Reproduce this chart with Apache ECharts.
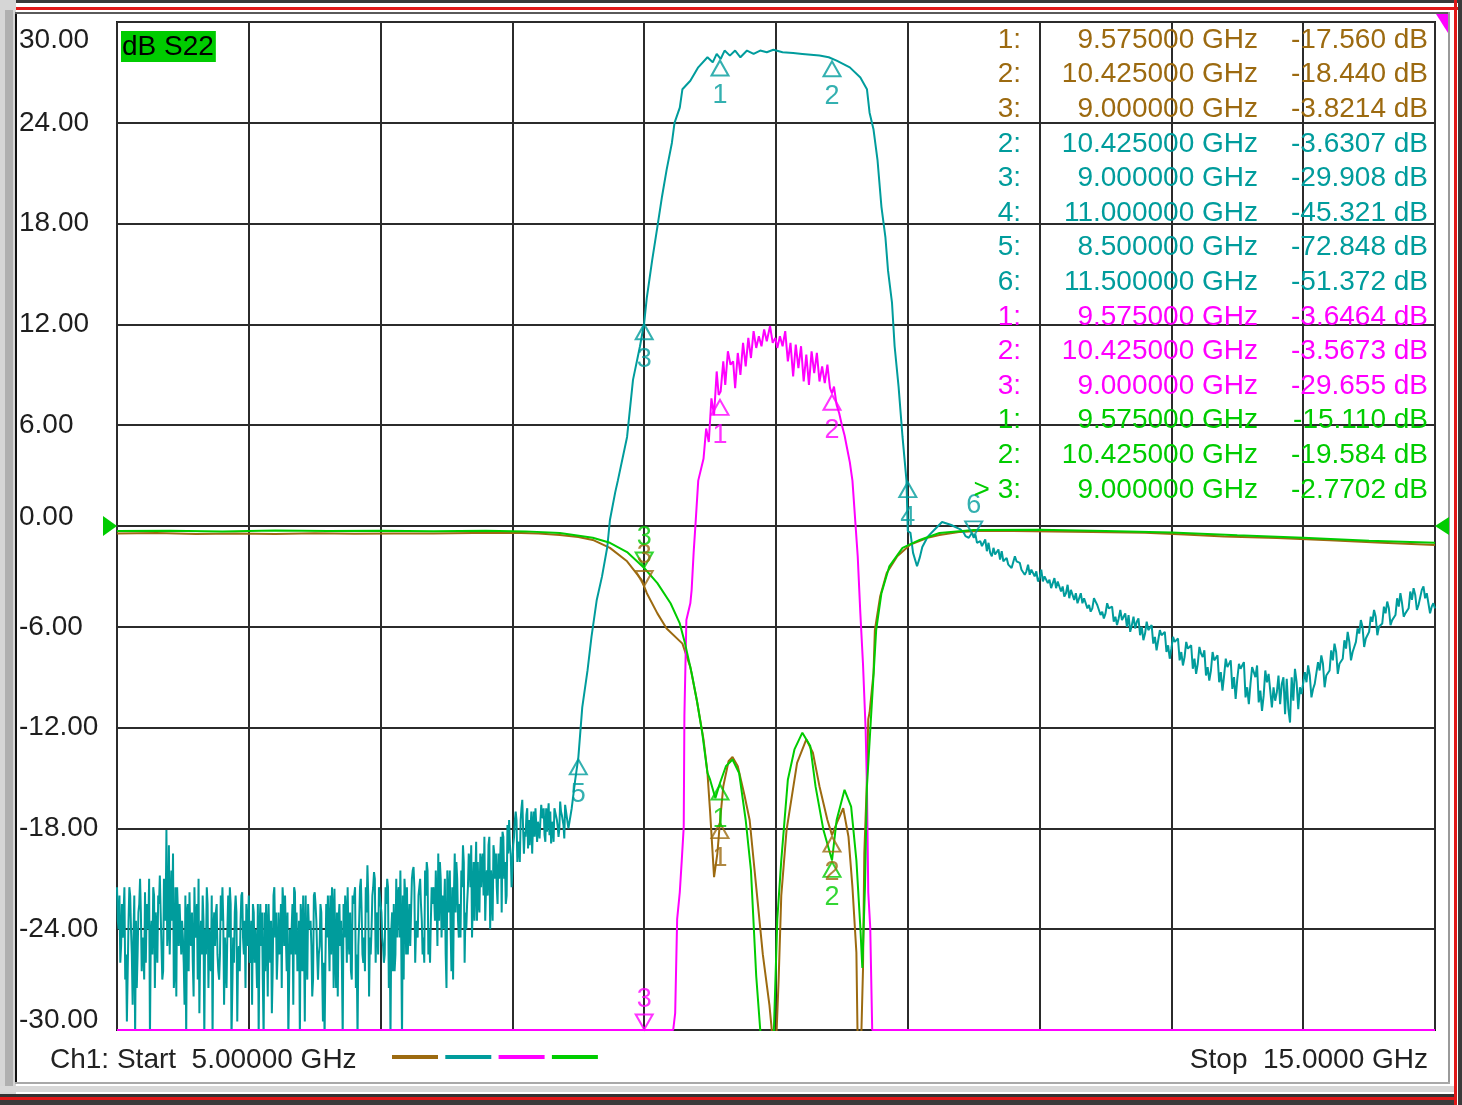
<!DOCTYPE html>
<html><head><meta charset="utf-8">
<script src="https://cdn.jsdelivr.net/npm/echarts@6/dist/echarts.min.js"></script>
<style>html,body{margin:0;padding:0;background:#fff;}#c{width:1462px;height:1105px;}</style>
</head><body><div id="c"></div>
<script>
const FONT = '"Liberation Sans", Arial, sans-serif';
// ---- axes ----
const freqMin = 5, freqMax = 15, freqStep = 1;
const dbMin = -30, dbMax = 30, dbStep = 6;
const activeTraceLabel = 'dB S22';
const channelLabel = 'Ch1:';

// ---- trace 1 (brown) [GHz, dB] ----
const brownTrace = [[5.0,-0.45],[5.3,-0.42],[5.6,-0.48],[5.9,-0.44],[6.2,-0.47],[6.5,-0.43],[6.8,-0.46],[7.1,-0.44],[7.4,-0.45],[7.7,-0.42],[8.0,-0.40],[8.2,-0.45],[8.36,-0.54],[8.5,-0.65],[8.61,-0.83],[8.74,-1.3],[8.87,-2.1],[8.98,-3.2],[9.02,-4.0],[9.10,-5.2],[9.17,-6.1],[9.29,-7.0],[9.35,-8.4],[9.40,-10.4],[9.45,-12.7],[9.48,-14.7],[9.50,-17.0],[9.53,-20.9],[9.555,-19.5],[9.575,-17.6],[9.60,-15.5],[9.64,-14.0],[9.67,-13.75],[9.71,-14.3],[9.76,-16.0],[9.80,-17.5],[9.86,-22.3],[9.90,-25.5],[9.95,-28.5],[9.98,-31],[10.0,-31],[10.02,-27],[10.04,-22],[10.08,-18.1],[10.16,-14.1],[10.23,-12.7],[10.28,-13.5],[10.33,-15.5],[10.39,-17.5],[10.425,-18.4],[10.46,-17.7],[10.51,-16.8],[10.55,-18.5],[10.58,-21.5],[10.61,-25.4],[10.62,-31],[10.645,-31],[10.66,-26.4],[10.67,-19.5],[10.69,-15.1],[10.70,-11.5],[10.71,-11.1],[10.74,-8.75],[10.75,-6.2],[10.79,-4.2],[10.84,-2.8],[10.92,-1.8],[11.02,-1.1],[11.15,-0.7],[11.24,-0.54],[11.4,-0.35],[11.55,-0.28],[11.8,-0.3],[12.1,-0.33],[12.4,-0.36],[12.8,-0.4],[13.1,-0.5],[13.4,-0.62],[13.8,-0.72],[14.2,-0.85],[14.6,-1.0],[15.0,-1.13]];

// ---- trace 4 (green) [GHz, dB] ----
const greenTrace = [[5.0,-0.3],[5.4,-0.28],[5.8,-0.32],[6.2,-0.27],[6.6,-0.3],[7.0,-0.28],[7.4,-0.31],[7.8,-0.29],[8.1,-0.32],[8.36,-0.42],[8.61,-0.7],[8.74,-1.0],[8.87,-1.55],[9.0,-2.5],[9.10,-3.4],[9.20,-4.6],[9.27,-5.8],[9.31,-7.0],[9.36,-8.75],[9.40,-10.4],[9.44,-12.3],[9.48,-14.7],[9.50,-15.1],[9.54,-16.2],[9.575,-15.3],[9.62,-14.3],[9.67,-13.9],[9.72,-14.7],[9.77,-17.5],[9.81,-20.5],[9.85,-26.8],[9.89,-31],[9.98,-31],[10.01,-23.4],[10.04,-19.9],[10.09,-15.1],[10.14,-13.3],[10.20,-12.3],[10.26,-13.1],[10.30,-15.5],[10.36,-18.1],[10.425,-19.9],[10.46,-17.5],[10.52,-15.7],[10.57,-16.7],[10.61,-19.9],[10.64,-23.9],[10.655,-26.3],[10.675,-21.5],[10.69,-15.5],[10.72,-11.5],[10.73,-10.2],[10.76,-6.2],[10.80,-4.0],[10.86,-2.4],[10.96,-1.3],[11.09,-0.83],[11.24,-0.42],[11.5,-0.24],[12.0,-0.22],[12.5,-0.3],[13.0,-0.38],[13.5,-0.55],[14.0,-0.7],[14.5,-0.88],[15.0,-1.0]];

// ---- trace 3 (magenta) [GHz, dB] ----
const magentaTrace = [[5.0,-30],[9.22,-30],[9.235,-29],[9.25,-23.4],[9.27,-21.8],[9.285,-19.9],[9.30,-17.9],[9.305,-11.3],[9.32,-5.6],[9.35,-4.6],[9.36,-3.8],[9.375,-1.6],[9.39,0.2],[9.41,2.7],[9.45,4.0],[9.47,5.8],[9.49,5.0],[9.51,7.6],[9.53,6.6],[9.55,9.2],[9.565,7.8],[9.58,8.0],[9.60,9.8],[9.615,8.4],[9.635,10.4],[9.655,9.6],[9.675,9.8],[9.69,8.2],[9.71,10.3],[9.73,9.0],[9.75,10.9],[9.77,9.5],[9.79,11.2],[9.81,10.0],[9.83,11.6],[9.85,10.6],[9.87,11.3],[9.89,10.7],[9.91,11.7],[9.93,11.0],[9.955,11.9],[9.975,10.9],[9.995,11.2],[10.01,10.6],[10.03,11.3],[10.05,10.7],[10.07,11.6],[10.09,9.8],[10.11,10.9],[10.13,8.9],[10.15,10.8],[10.17,9.4],[10.19,10.7],[10.21,8.6],[10.23,10.2],[10.25,8.4],[10.27,10.4],[10.29,9.1],[10.31,10.3],[10.33,8.6],[10.35,9.5],[10.37,8.5],[10.39,9.6],[10.41,8.2],[10.425,7.9],[10.44,8.3],[10.46,7.2],[10.48,6.7],[10.50,6.0],[10.52,5.4],[10.54,4.6],[10.56,3.8],[10.58,2.7],[10.62,-1.8],[10.64,-5.2],[10.66,-8.2],[10.68,-12.1],[10.69,-15.5],[10.70,-21.8],[10.715,-23.9],[10.73,-30],[15.0,-30]];

// ---- trace 2 (teal) ----
// noise floor 5.0 - 8.4 GHz, four interleaved sweep sets, each 0.025 GHz apart
const tealLowStep = 0.025;
const tealLowStartA = 5.0;
const tealLowDbA = [
 -21.5,-26.0,-23.0,-29.5,-22.0,-24.5,-27.5,-21.0,-25.0,-22.5,
 -30.5,-21.5,-24.0,-20.8,-26.5,-18.1,-25.5,-19.5,-28.0,-22.5,
 -24.5,-30.5,-21.8,-26.0,-23.5,-29.0,-22.0,-25.5,-24.0,-30.5,
 -23.0,-27.0,-21.5,-26.0,-24.5,-30.5,-22.0,-25.0,-21.8,-27.5,
 -22.0,-28.5,-24.0,-30.5,-23.0,-26.5,-22.5,-29.0,-24.5,-23.0,
 -27.5,-22.0,-30.5,-24.0,-21.8,-26.0,-23.5,-29.5,-22.5,-25.0,
 -21.8,-27.0,-23.0,-30.5,-22.0,-25.5,-21.6,-28.0,-23.5,-24.5,
 -21.5,-26.5,-22.5,-30.5,-21.0,-24.5,-20.2,-25.5,-20.6,-23.0,
 -22.0,-26.0,-21.0,-30.5,-22.5,-24.5,-20.5,-27.0,-21.5,-25.0,
 -20.3,-23.5,-21.0,-24.5,-20.0,-26.0,-21.5,-22.5,-20.0,-24.0,
 -27.5,-20.5,-27.0,-20.0,-22.5,-19.0,-24.0,-20.0,-22.0,-18.8,
 -23.0,-19.5,-21.5,-18.5,-23.5,-19.5,-21.0,-18.2,-22.5,-17.5,
 -20.5,-17.0,-19.0,-16.3,-18.5,-17.5,-19.5,-16.8,-18.0,-17.2,
 -18.8,-16.5,-17.8,-16.9,-18.5,-17.2,-16.6];
const tealLowStartB = 5.0125;
const tealLowDbB = [
 -24.0,-22.5,-27.0,-23.5,-25.5,-30.5,-23.0,-26.5,-21.8,-24.0,
 -23.5,-27.5,-22.0,-25.0,-21.5,-24.0,-20.5,-26.5,-23.0,-25.5,
 -28.5,-22.5,-25.0,-21.5,-27.0,-23.5,-30.5,-22.5,-26.5,-23.0,
 -25.5,-22.0,-28.5,-24.0,-22.5,-26.0,-29.5,-23.5,-25.5,-22.5,
 -25.5,-23.0,-27.5,-22.5,-30.5,-24.0,-26.0,-22.0,-27.0,-25.0,
 -22.5,-26.5,-24.0,-28.5,-23.0,-30.5,-22.0,-25.5,-24.0,-27.0,
 -23.5,-25.0,-29.5,-22.5,-26.5,-23.0,-27.5,-22.5,-30.5,-23.0,
 -25.5,-22.0,-27.5,-23.5,-25.5,-21.5,-28.0,-22.0,-26.0,-21.5,
 -24.5,-21.5,-27.5,-23.0,-25.5,-21.5,-30.5,-22.0,-24.0,-21.0,
 -26.0,-22.0,-23.5,-20.5,-25.5,-21.5,-23.5,-19.5,-24.5,-21.0,
 -22.0,-26.5,-19.5,-23.5,-20.5,-26.0,-21.5,-19.0,-23.5,-20.0,
 -21.5,-18.5,-22.0,-20.5,-19.5,-22.5,-18.5,-21.0,-17.8,-19.5,
 -18.5,-20.0,-17.5,-19.5,-16.8,-18.0,-17.0,-18.8,-17.5,-16.8,
 -18.2,-17.0,-18.8,-17.5,-16.4,-17.8];
const tealLowStartC = 5.00625;
const tealLowDbC = [
 -23.5,-25.0,-21.5,-26.5,-24.0,-22.0,-25.5,-23.0,-27.0,-22.5,
 -24.5,-22.0,-26.0,-23.0,-21.0,-25.0,-22.5,-27.5,-21.5,-24.0,
 -26.0,-23.0,-24.5,-28.0,-22.5,-25.0,-23.5,-21.5,-26.0,-24.0,
 -22.5,-25.5,-23.5,-27.5,-21.5,-24.5,-23.0,-26.5,-24.5,-22.5,
 -26.0,-22.5,-25.5,-24.0,-27.0,-22.5,-24.5,-26.5,-23.0,-25.5,
 -21.5,-24.5,-27.0,-22.5,-25.5,-23.5,-26.5,-22.0,-24.0,-28.0,
 -22.5,-25.5,-23.0,-26.0,-24.0,-21.5,-25.5,-23.5,-26.0,-22.0,
 -24.5,-27.0,-21.5,-25.0,-23.0,-26.5,-22.0,-24.0,-21.0,-25.5,
 -23.0,-25.5,-21.5,-24.0,-26.5,-22.0,-24.5,-21.0,-25.5,-23.0,
 -21.5,-24.5,-22.5,-26.0,-20.5,-23.5,-22.0,-25.0,-21.0,-23.0,
 -20.5,-24.0,-22.0,-21.0,-24.5,-20.0,-22.5,-21.5,-20.0,-23.5,
 -19.5,-22.0,-20.5,-24.0,-19.0,-21.5,-20.0,-18.5,-22.0,-19.0,
 -19.0,-17.5,-20.0,-18.0,-17.2,-19.0,-17.8,-16.9,-18.6,-17.4,
 -16.8,-18.4,-17.6,-16.9,-18.0,-17.3];
const tealLowStartD = 5.01875;
const tealLowDbD = [
 -22.0,-24.5,-25.5,-21.5,-28.5,-23.5,-22.5,-24.5,-26.0,-21.0,
 -25.5,-23.0,-22.5,-27.0,-23.5,-19.0,-23.5,-21.5,-25.0,-23.5,
 -22.0,-26.5,-23.0,-24.5,-21.0,-25.5,-24.0,-27.5,-22.0,-25.0,
 -26.5,-23.5,-24.5,-22.0,-30.5,-23.0,-25.5,-22.0,-23.5,-25.0,
 -23.5,-26.0,-22.5,-25.0,-23.0,-28.0,-23.5,-21.5,-25.5,-22.5,
 -25.0,-23.0,-25.5,-21.5,-26.5,-22.5,-24.5,-27.0,-23.5,-22.0,
 -25.5,-22.5,-26.0,-24.5,-22.0,-27.5,-23.0,-25.0,-22.5,-26.0,
 -23.0,-22.5,-25.5,-21.5,-26.0,-23.0,-24.5,-21.5,-23.5,-22.0,
 -25.0,-22.5,-24.0,-26.5,-21.0,-24.5,-22.0,-25.5,-22.5,-20.5,
 -24.0,-21.5,-25.5,-22.0,-24.0,-22.5,-20.5,-23.5,-22.0,-25.5,
 -23.0,-21.5,-23.0,-24.5,-21.5,-23.0,-19.5,-24.5,-21.0,-22.5,
 -20.0,-23.5,-19.0,-22.0,-21.0,-19.5,-23.0,-20.0,-19.5,-21.5,
 -17.5,-18.8,-16.8,-18.2,-19.2,-17.0,-18.5,-17.6,-16.6,-18.4,
 -17.2,-18.9,-16.8,-17.9,-17.0,-18.6];
// passband [GHz, dB]
const tealMid = [[8.425,-18.0],[8.45,-16.8],[8.475,-15.2],[8.50,-13.8],[8.53,-10.8],[8.57,-8.6],[8.60,-6.6],[8.64,-4.4],[8.68,-3.0],[8.72,-1.25],[8.74,0.36],[8.78,2.0],[8.80,2.7],[8.87,5.3],[8.915,8.7],[8.968,10.7],[9.0,12.1],[9.02,13.6],[9.06,15.8],[9.10,17.8],[9.135,19.6],[9.17,21.2],[9.21,22.8],[9.23,24.0],[9.27,24.9],[9.29,26.0],[9.35,26.5],[9.41,27.3],[9.48,27.9],[9.52,27.6],[9.55,28.1],[9.58,27.8],[9.61,28.3],[9.65,28.0],[9.69,28.3],[9.73,27.9],[9.78,28.3],[9.83,28.1],[9.88,28.3],[9.93,28.2],[9.98,28.35],[10.05,28.2],[10.13,28.15],[10.20,28.1],[10.33,28.0],[10.40,27.9],[10.46,27.7],[10.56,27.3],[10.64,26.7],[10.69,26.0],[10.71,24.6],[10.74,23.6],[10.77,21.8],[10.80,19.0],[10.83,17.2],[10.85,15.2],[10.88,13.3],[10.90,10.7],[10.93,8.3],[10.96,5.3],[10.99,2.7],[11.0,-0.3],[11.02,-0.4],[11.04,-1.6],[11.07,-2.4],[11.09,-1.9],[11.11,-1.25],[11.15,-0.65],[11.20,-0.24],[11.26,0.24],[11.33,0.06],[11.37,-0.1]];
// upper stopband 11.4 - 15.0 GHz, four interleaved sweep sets, each 0.05 GHz apart
const tealHighStep = 0.05;
const tealHighStartA = 11.4;
const tealHighDbA = [
 -0.2,-0.5,-0.7,-0.9,-1.5,-1.3,-2.0,-1.9,-2.4,-2.2,
 -2.7,-2.5,-3.1,-2.9,-3.6,-3.4,-4.0,-3.8,-4.5,-4.2,
 -4.9,-4.6,-5.2,-4.8,-5.5,-5.2,-5.9,-5.5,-6.4,-5.9,
 -6.8,-6.3,-7.3,-6.7,-7.8,-7.1,-8.2,-7.4,-8.6,-7.7,
 -8.9,-8.0,-9.1,-8.1,-9.4,-8.3,-10.1,-8.7,-9.9,-9.0,
 -11.7,-9.3,-10.0,-8.9,-9.3,-8.2,-8.6,-7.5,-7.9,-6.9,
 -6.9,-6.0,-6.3,-5.4,-5.8,-4.9,-5.3,-4.6,-4.9,-4.1,
 -3.8,-4.6,-4.9];
const tealHighStartB = 11.425;
const tealHighDbB = [
 -0.4,-0.6,-1.0,-1.2,-1.6,-1.7,-2.1,-2.2,-2.1,-2.6,
 -2.9,-2.7,-3.3,-3.2,-3.7,-3.6,-4.3,-4.0,-4.6,-4.7,
 -4.5,-5.1,-4.9,-5.4,-5.6,-5.3,-6.1,-6.0,-6.2,-6.6,
 -6.5,-7.1,-6.9,-7.5,-7.3,-7.9,-7.6,-8.4,-8.0,-8.7,
 -8.4,-9.0,-8.5,-9.6,-8.7,-9.8,-9.3,-9.6,-10.6,-9.1,
 -10.4,-9.6,-9.3,-9.7,-8.6,-8.9,-8.0,-8.2,-7.3,-7.5,
 -6.4,-6.7,-5.7,-6.0,-5.2,-5.6,-4.8,-5.2,-4.4,-4.7,
 -4.3,-4.8];
const tealHighStartC = 11.4125;
const tealHighDbC = [
 -0.1,-0.7,-0.5,-1.2,-1.0,-1.7,-1.5,-2.3,-1.8,-2.6,
 -2.3,-3.0,-2.6,-3.4,-3.1,-3.9,-3.5,-4.4,-4.0,-4.9,
 -4.3,-5.3,-4.6,-5.7,-5.0,-6.0,-5.4,-6.5,-5.7,-7.0,
 -6.2,-7.5,-6.6,-8.0,-6.9,-8.5,-7.2,-8.9,-7.5,-9.3,
 -7.9,-9.7,-8.2,-10.2,-8.4,-10.5,-8.6,-10.8,-8.9,-11.2,
 -9.0,-10.9,-8.7,-10.2,-8.1,-9.6,-7.4,-8.8,-6.8,-8.0,
 -6.1,-7.2,-5.4,-6.5,-4.8,-5.9,-4.3,-5.4,-3.9,-5.0,
 -3.6,-5.2];
const tealHighStartD = 11.4375;
const tealHighDbD = [
 -0.6,-0.4,-1.1,-0.8,-1.8,-1.4,-2.2,-2.5,-2.0,-2.9,
 -2.6,-3.3,-3.0,-3.7,-3.3,-4.2,-3.8,-4.6,-4.3,-5.1,
 -4.7,-5.5,-5.0,-5.9,-5.4,-6.3,-5.7,-6.8,-6.1,-7.4,
 -6.5,-7.9,-7.0,-8.3,-7.4,-8.8,-7.8,-9.2,-8.0,-9.8,
 -8.3,-10.3,-8.6,-10.6,-9.0,-11.0,-8.8,-10.4,-9.4,-10.9,
 -8.5,-10.0,-8.3,-9.4,-7.7,-8.8,-7.0,-8.1,-6.3,-7.4,
 -5.6,-6.8,-5.0,-6.1,-4.5,-5.6,-4.0,-5.1,-3.7,-4.8,
 -4.0,-4.6];

// ---- markers shown on the traces (display dB) ----
const brownMarkFreq = [9.575, 10.425, 9.0],  brownMarkDb = [-17.6, -18.4, -3.6],  brownMarkNum = ['1','2','3'];
const tealMarkFreq = [9.575, 10.425, 9.0, 11.0, 8.5, 11.5], tealMarkDb = [27.8, 27.75, 12.1, 2.7, -13.8, -0.65], tealMarkNum = ['1','2','3','4','5','6'];
const magentaMarkFreq = [9.575, 10.425, 9.0], magentaMarkDb = [7.6, 7.9, -30], magentaMarkNum = ['1','2','3'];
const greenMarkFreq = [9.575, 10.425, 9.0], greenMarkDb = [-15.3, -19.9, -2.5], greenMarkNum = ['1','2','3'];

// ---- marker readout table ----
const readTrace = ['brown','brown','brown','teal','teal','teal','teal','teal','magenta','magenta','magenta','green','green','green'];
const readNum   = ['1:','2:','3:','2:','3:','4:','5:','6:','1:','2:','3:','1:','2:','> 3:'];
const readFreq  = [9.575,10.425,9.0,10.425,9.0,11.0,8.5,11.5,9.575,10.425,9.0,9.575,10.425,9.0];
const readDb    = [-17.560,-18.440,-3.8214,-3.6307,-29.908,-45.321,-72.848,-51.372,-3.6464,-3.5673,-29.655,-15.110,-19.584,-2.7702];

const COL = {brown:'#9C6A10', teal:'#009C9C', magenta:'#FF00FF', green:'#00CC00'};

function sweep(start, step, vals){ return vals.map((v,i)=>[+(start+i*step).toFixed(5), v]); }
const byFreq = (a,b)=>a[0]-b[0];
const tealLow = [].concat(
  sweep(tealLowStartA, tealLowStep, tealLowDbA), sweep(tealLowStartB, tealLowStep, tealLowDbB),
  sweep(tealLowStartC, tealLowStep, tealLowDbC), sweep(tealLowStartD, tealLowStep, tealLowDbD)).sort(byFreq);
const tealHigh = [].concat(
  sweep(tealHighStartA, tealHighStep, tealHighDbA), sweep(tealHighStartB, tealHighStep, tealHighDbB),
  sweep(tealHighStartC, tealHighStep, tealHighDbC), sweep(tealHighStartD, tealHighStep, tealHighDbD)).sort(byFreq);
const tealTrace = tealLow.concat(tealMid, tealHigh);

const UP = 'path://M5,0 L10,9 L0,9 Z';
const DOWN = 'path://M0,0 L10,0 L5,9 Z';
function lineSeries(name, data, color){
  return {name, type:'line', data, showSymbol:false, symbol:'none', clip:true, animation:false,
    lineStyle:{color, width:2}, itemStyle:{color}, z:3};
}
function markerSeries(name, freqs, dbs, nums, color, aboveIdx){
  return {name:name+' markers', type:'scatter', animation:false, silent:true, z:6, clip:false,
    data: freqs.map((f,i)=>{
      const up = aboveIdx.includes(i);
      return {value:[f, dbs[i]], symbol: up?DOWN:UP, symbolOffset:[0, up?-8:9],
        label:{position: up?'top':'bottom', distance: up?1:6}};
    }),
    symbolSize:[17,15],
    itemStyle:{color:'rgba(0,0,0,0)', borderColor:color, borderWidth:2},
    label:{show:true, formatter:p=>nums[p.dataIndex], color, fontSize:27, fontFamily:FONT}
  };
}

const chart = echarts.init(document.getElementById('c'), null, {renderer:'canvas'});
const gridLine = {lineStyle:{color:'#2b2b2b', width:2}};
chart.setOption({
  backgroundColor:'#ffffff',
  animation:false,
  grid:{left:117, right:27, top:22, bottom:75, show:true, borderColor:'#1a1a1a', borderWidth:2, backgroundColor:'#fff', containLabel:false, outerBoundsMode:'none'},
  xAxis:{type:'value', min:freqMin, max:freqMax, interval:freqStep, axisLabel:{show:false}, axisLine:{show:false}, axisTick:{show:false}, splitLine:gridLine},
  yAxis:{type:'value', min:dbMin, max:dbMax, interval:dbStep, axisLine:{show:false}, axisTick:{show:false}, splitLine:gridLine,
    axisLabel:{align:'left', margin:98, fontSize:28, fontFamily:FONT, color:'#1e1e1e', showMinLabel:true, showMaxLabel:true,
      formatter:v=> v===dbMax ? '{t|'+v.toFixed(2)+'}' : v===dbMin ? '{b|'+v.toFixed(2)+'}' : v===0 ? '{z|'+v.toFixed(2)+'}' : v.toFixed(2),
      rich:{
        t:{padding:[36,0,0,0], fontSize:28, fontFamily:FONT, color:'#1e1e1e'},
        b:{padding:[0,0,20,0], fontSize:28, fontFamily:FONT, color:'#1e1e1e'},
        z:{padding:[0,0,18,0], fontSize:28, fontFamily:FONT, color:'#1e1e1e'}
      }}},
  series:[
    lineSeries('Tr1', brownTrace, COL.brown),
    lineSeries('Tr2', tealTrace, COL.teal),
    lineSeries('Tr3', magentaTrace, COL.magenta),
    lineSeries('Tr4', greenTrace, COL.green),
    markerSeries('Tr1', brownMarkFreq, brownMarkDb, brownMarkNum, COL.brown, [2]),
    markerSeries('Tr2', tealMarkFreq, tealMarkDb, tealMarkNum, COL.teal, [5]),
    markerSeries('Tr3', magentaMarkFreq, magentaMarkDb, magentaMarkNum, COL.magenta, [2]),
    markerSeries('Tr4', greenMarkFreq, greenMarkDb, greenMarkNum, COL.green, [2])
  ]
});

// ---- decorations (frame, readout table, reference markers, footer) ----
const g = [];
function rect(x,y,w,h,fill){ g.push({type:'rect', silent:true, z:50, shape:{x,y,width:w,height:h}, style:{fill}}); }
function text(t,x,y,fill,align,extra){ g.push({type:'text', silent:true, z:60, x, y, style:Object.assign({text:t, fill, font:'28px '+FONT, align, verticalAlign:'middle'}, extra||{})}); }
// window frame
rect(0,0,1462,3,'#3a3a3a');
rect(0,7,1462,3,'#e01818');
rect(0,0,16,1095,'#d6d6d6');
rect(5,10,8,1080,'#b0b0b0');
rect(15,12,2,1071,'#111');
rect(15,12,1435,2,'#5a5a5a');
rect(1448,12,2,1072,'#9a9a9a');
rect(1454,0,3,1105,'#e01818');
rect(1458,0,4,1105,'#3a3a3a');
rect(15,1082,1435,2,'#a8a8a8');
rect(0,1086,1454,6,'#d8d8d8');
rect(0,1094,1454,3,'#333');
rect(0,1097,1454,3,'#e01818');
rect(0,1100,1454,5,'#3a3a3a');
// active trace label
g.push({type:'text', silent:true, z:60, x:121, y:31, style:{text:activeTraceLabel, fill:'#000', font:'28px '+FONT, backgroundColor:'#00CC00', padding:[2,2,1,1], align:'left', verticalAlign:'top'}});
// readout table
readNum.forEach((n,i)=>{
  const y = 40 + i*34.6, c = COL[readTrace[i]];
  text(n, 1021, y, c, 'right');
  text(readFreq[i].toFixed(6)+' GHz', 1258, y, c, 'right');
  text(readDb[i].toPrecision(5)+' dB', 1428, y, c, 'right');
});
// footer
text(channelLabel+' Start  '+freqMin.toFixed(5)+' GHz', 50, 1060, '#222', 'left');
text('Stop  '+freqMax.toFixed(4)+' GHz', 1428, 1060, '#222', 'right');
[COL.brown, COL.teal, COL.magenta, COL.green].forEach((c,i)=>{
  rect(392 + i*53.3, 1055, 46, 4, c);
});
// reference-level markers, positioned through the axes
const pL = chart.convertToPixel({gridIndex:0}, [freqMin, 0]);
const pR = chart.convertToPixel({gridIndex:0}, [freqMax, 0]);
const pT = chart.convertToPixel({gridIndex:0}, [freqMax, dbMax]);
g.push({type:'polygon', silent:true, z:55, shape:{points:[[pL[0]-14,pL[1]-10],[pL[0],pL[1]],[pL[0]-14,pL[1]+10]]}, style:{fill:COL.green}});
g.push({type:'polygon', silent:true, z:55, shape:{points:[[pR[0]+14,pR[1]-9],[pR[0],pR[1]],[pR[0]+14,pR[1]+9]]}, style:{fill:COL.green}});
g.push({type:'polygon', silent:true, z:55, shape:{points:[[pT[0]+1,pT[1]-8],[pT[0]+13,pT[1]-8],[pT[0]+13,pT[1]+11]]}, style:{fill:COL.magenta}});
chart.setOption({graphic:g});
</script></body></html>
